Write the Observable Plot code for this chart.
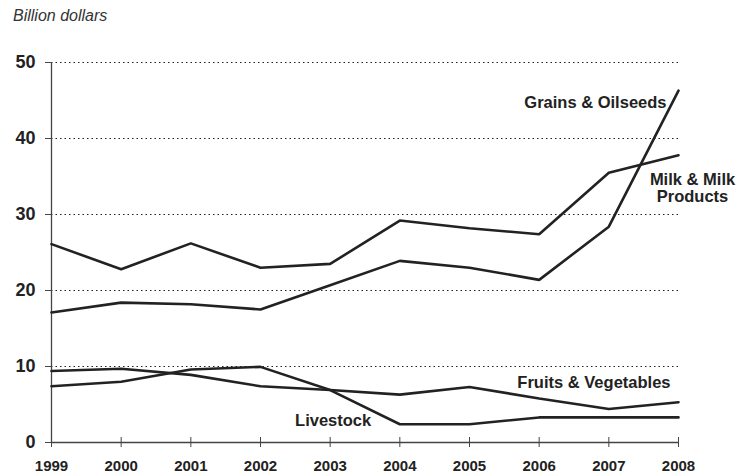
<!DOCTYPE html>
<html>
<head>
<meta charset="utf-8">
<script src="https://cdn.jsdelivr.net/npm/d3@7"></script>
<script src="https://cdn.jsdelivr.net/npm/@observablehq/plot@0.6"></script>
<style>
  html, body { margin: 0; padding: 0; background: #fff; }
  #wrap { position: relative; width: 743px; height: 473px; font-family: "Liberation Sans", Arial, sans-serif; }
  #sub { position: absolute; left: 13px; top: 7px; font-size: 16px; line-height: 18px; font-style: italic; color: #333; }
</style>
</head>
<body>
<div id="wrap"><div id="sub">Billion dollars</div></div>
<script>
const years = [1999, 2000, 2001, 2002, 2003, 2004, 2005, 2006, 2007, 2008];
const grains = [17.1, 18.4, 18.2, 17.5, 20.7, 23.9, 23.0, 21.4, 28.4, 46.3];
const milk = [26.1, 22.8, 26.2, 23.0, 23.5, 29.2, 28.2, 27.4, 35.5, 37.8];
const fruits = [9.4, 9.7, 8.9, 7.4, 6.9, 6.3, 7.3, 5.8, 4.4, 5.3];
const livestock = [7.4, 8.0, 9.6, 9.95, 6.9, 2.4, 2.4, 3.3, 3.3, 3.3];
const yTicks = [0, 10, 20, 30, 40, 50];

const series = [
  {name: "Grains & Oilseeds", values: grains},
  {name: "Milk & Milk Products", values: milk},
  {name: "Fruits & Vegetables", values: fruits},
  {name: "Livestock", values: livestock}
];
const rows = series.flatMap(s => s.values.map((v, i) => ({series: s.name, year: years[i], value: v})));
const last = (arr) => ({year: years[years.length - 1], value: arr[arr.length - 1]});

const font = "Liberation Sans, Arial, sans-serif";
const ink = "#222";
const lab = 16.5;

const chart = Plot.plot({
  width: 743,
  height: 473,
  marginLeft: 51,
  marginRight: 65,
  marginTop: 62,
  marginBottom: 31,
  style: {fontFamily: font, background: "#fff", color: ink, overflow: "visible"},
  x: {domain: [1999, 2008]},
  y: {domain: [0, 50]},
  marks: [
    Plot.ruleY(yTicks.filter(d => d > 0), {x1: 1999, x2: 2008, stroke: "#222", strokeWidth: 1, strokeDasharray: "1.5,3"}),
    Plot.ruleX([1999], {y1: 0, y2: 50, stroke: "#444", strokeWidth: 1.3}),
    Plot.ruleY([0], {x1: 1999, x2: 2008, stroke: "#444", strokeWidth: 1.3}),
    Plot.axisY({ticks: yTicks, tickSize: 6, tickPadding: 10, tickFormat: d => d, fontSize: 18, fontWeight: "bold", stroke: "#444", label: null}),
    Plot.axisX({ticks: years, tickSize: 10, dy: -5, tickFormat: () => "", stroke: "#444", label: null}),
    Plot.axisX({ticks: years, tickSize: 0, tickPadding: 18, tickFormat: d => String(d), fontSize: 15, fontWeight: "bold", label: null}),
    Plot.line(rows, {x: "year", y: "value", z: "series", stroke: ink, strokeWidth: 2.6, strokeLinejoin: "miter"}),
    Plot.text([last(grains)], {x: "year", y: "value", text: () => "Grains & Oilseeds", textAnchor: "end", dx: -12, dy: 12, fontSize: lab, fontWeight: "bold", fill: ink}),
    Plot.text([last(milk)], {x: "year", y: "value", text: () => "Milk & Milk\nProducts", textAnchor: "middle", lineAnchor: "middle", dx: 14, dy: 33, fontSize: lab, fontWeight: "bold", fill: ink, lineHeight: 1.05}),
    Plot.text([last(fruits)], {x: "year", y: "value", text: () => "Fruits & Vegetables", textAnchor: "end", dx: -8, dy: -20, fontSize: lab, fontWeight: "bold", fill: ink}),
    Plot.text([{year: years[4], value: livestock[4]}], {x: "year", y: "value", text: () => "Livestock", textAnchor: "middle", dx: 3, dy: 31, fontSize: lab, fontWeight: "bold", fill: ink})
  ]
});
document.getElementById("wrap").appendChild(chart);
</script>
</body>
</html>
